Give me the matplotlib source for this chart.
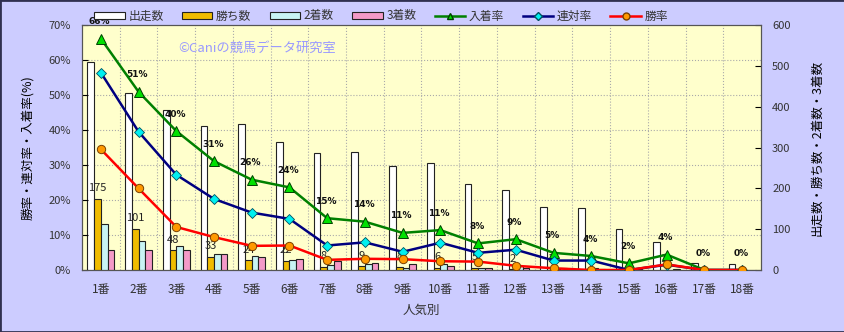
import numpy as np
import matplotlib
matplotlib.use("Agg")
import matplotlib.pyplot as plt
from matplotlib.patches import Patch, Rectangle
from matplotlib.lines import Line2D

plt.rcParams['font.family'] = ['Noto Sans CJK JP', 'DejaVu Sans']

# data
categories = ["1番", "2番", "3番", "4番", "5番", "6番", "7番", "8番", "9番",
              "10番", "11番", "12番", "13番", "14番", "15番", "16番", "17番", "18番"]
runs = [510, 433, 393, 353, 357, 314, 287, 290, 255, 261, 211, 196, 155, 153, 100, 69, 16, 15]
wins = [175, 101, 48, 33, 24, 22, 8, 9, 8, 6, 5, 2, 1, 0, 0, 1, 0, 0]
seconds = [113, 70, 60, 38, 34, 24, 13, 14, 5, 14, 5, 9, 3, 4, 0, 0, 0, 0]
thirds = [49, 50, 48, 38, 33, 28, 21, 16, 14, 9, 6, 6, 4, 2, 2, 2, 0, 0]
place_rate = [66.1, 50.9, 39.7, 31.1, 25.8, 23.6, 14.8, 13.8, 10.6, 11.4, 7.6, 8.8, 4.9, 4.0, 1.9, 4.4, 0, 0]
quinella_rate = [56.4, 39.5, 27.2, 20.3, 16.4, 14.6, 7.0, 7.9, 5.2, 7.8, 4.9, 5.8, 2.7, 2.7, 0, 1.5, 0, 0]
win_rate = [34.5, 23.3, 12.3, 9.4, 6.9, 7.0, 2.9, 3.2, 3.1, 2.5, 2.4, 1.2, 0.5, 0, 0, 1.6, 0, 0]

bar_colors = ["#FFFFFF", "#F0BC00", "#C8F4F4", "#F49AC8"]
bar_labels = ["出走数", "勝ち数", "2着数", "3着数"]
text_col = "#333333"

W, H = 845, 332
fig = plt.figure(figsize=(W / 100, H / 100), dpi=100)
fig.patch.set_facecolor("#CCCCFF")
fig.patches.append(Rectangle((0, 0), 1, 1, transform=fig.transFigure,
                             fill=False, edgecolor="#303050", linewidth=2))

ax_bar = fig.add_axes([82 / W, 1 - 270 / H, (761 - 82) / W, 245 / H])
ax_bar.set_facecolor("#FFFFCC")
ax_line = ax_bar.twinx()

x = np.arange(len(categories))
w = 0.178
series = [runs, wins, seconds, thirds]
for k, (vals, col) in enumerate(zip(series, bar_colors)):
    ax_bar.bar(x + (k - 1.5) * w, vals, width=w, color=col,
               edgecolor="#222222", linewidth=0.8, zorder=3)

# win counts above gold bars
for xi, v in zip(x, wins):
    if v > 0:
        ax_bar.annotate(str(v), (xi - 0.5 * w, v), xytext=(0, 4),
                        textcoords="offset points", ha="center", va="bottom",
                        fontsize=8, color="#222222", zorder=4)

ax_bar.set_ylim(0, 600)
ax_bar.set_xlim(-0.5, len(categories) - 0.5)
ax_bar.yaxis.tick_right()
ax_bar.yaxis.set_label_position("right")
ax_bar.set_yticks(np.arange(0, 601, 100))
ax_bar.set_yticks(np.arange(1, 7) * 600 / 7, minor=True)
ax_bar.set_xticks(x)
ax_bar.set_xticklabels(categories)
ax_bar.set_xticks(np.arange(0.5, len(categories) - 1, 1), minor=True)
ax_bar.grid(which="minor", color="#AAAAAA", linestyle=":", linewidth=0.8, zorder=0)
ax_bar.tick_params(axis="y", which="major", direction="in", length=4,
                   pad=8, labelsize=8, labelcolor=text_col)
ax_bar.tick_params(axis="x", which="major", length=0, pad=9,
                   labelsize=8.5, labelcolor=text_col)
ax_bar.tick_params(which="minor", length=0)
ax_bar.set_ylabel("出走数・勝ち数・2着数・3着数", fontsize=9, labelpad=14,
                  rotation=90)
ax_bar.set_xlabel("人気別", fontsize=9, labelpad=6, color=text_col)

# rate lines
ax_line.plot(x, place_rate, color="#008000", linewidth=1.8, marker="^",
             markersize=7, markerfacecolor="#00E000", markeredgecolor="#004000",
             markeredgewidth=0.7, zorder=5)
ax_line.plot(x, quinella_rate, color="#000080", linewidth=1.8, marker="D",
             markersize=5, markerfacecolor="#00F0F0", markeredgecolor="#005060",
             markeredgewidth=0.6, zorder=5)
ax_line.plot(x, win_rate, color="#FF0000", linewidth=1.8, marker="o",
             markersize=6, markerfacecolor="#FF9900", markeredgecolor="#7A4000",
             markeredgewidth=0.7, zorder=6)
for xi, v in zip(x, place_rate):
    ax_line.annotate(f"{v:.0f}%", (xi, v), xytext=(-1, 9),
                     textcoords="offset points", ha="center", va="bottom",
                     fontsize=6.5, fontweight="bold", family="DejaVu Sans",
                     color="#111111")

ax_line.set_ylim(0, 70)
ax_line.yaxis.tick_left()
ax_line.yaxis.set_label_position("left")
ax_line.set_yticks(np.arange(0, 71, 10))
ax_line.set_yticklabels([f"{t}%" for t in range(0, 71, 10)])
ax_line.tick_params(axis="y", direction="in", length=4, pad=8,
                    labelsize=8, labelcolor=text_col)
ax_line.set_ylabel("勝率・連対率・入着率(%)", fontsize=9, labelpad=10)

for a in (ax_bar, ax_line):
    for s in a.spines.values():
        s.set_color("#555555")
        s.set_linewidth(0.8)

ax_bar.text(0.258, 0.905, "©Caniの競馬データ研究室", transform=ax_bar.transAxes,
            ha="center", va="center", fontsize=9.5, color="#9999FF", zorder=2)

handles = [Patch(facecolor=c, edgecolor="#222222", linewidth=0.8) for c in bar_colors]
handles += [
    Line2D([], [], color="#008000", linewidth=1.8, marker="^", markersize=5,
           markerfacecolor="#00E000", markeredgecolor="#004000"),
    Line2D([], [], color="#000080", linewidth=1.8, marker="D", markersize=4,
           markerfacecolor="#00F0F0", markeredgecolor="#005060"),
    Line2D([], [], color="#FF0000", linewidth=1.8, marker="o", markersize=5,
           markerfacecolor="#FF9900", markeredgecolor="#7A4000"),
]
labels = bar_labels + ["入着率", "連対率", "勝率"]
fig.legend(handles, labels, loc="center", bbox_to_anchor=(381 / W, 1 - 16 / H),
           ncol=7, frameon=False, fontsize=8.5, handlelength=2.6,
           handleheight=0.55, handletextpad=0.3, columnspacing=1.55,
           labelcolor=text_col)

fig.savefig("out.png", dpi=100, facecolor=fig.get_facecolor())
